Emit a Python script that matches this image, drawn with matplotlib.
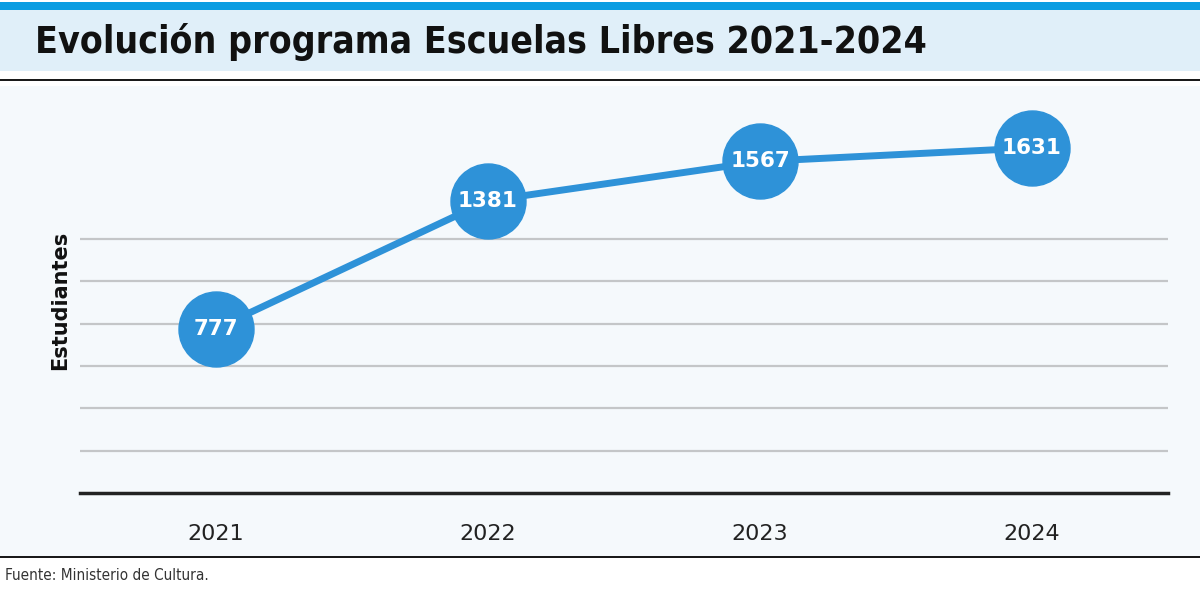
import matplotlib
matplotlib.use("Agg")
import matplotlib.pyplot as plt
from matplotlib.patches import Rectangle

years = ["2021", "2022", "2023", "2024"]
students = [777, 1381, 1567, 1631]
grid_values = [200, 400, 600, 800, 1000, 1200]

title = "Evolución programa Escuelas Libres 2021-2024"
ylabel = "Estudiantes"
source = "Fuente: Ministerio de Cultura."

W, H = 1200, 596
fig = plt.figure(figsize=(W / 100, H / 100), dpi=100)
fig.patch.set_facecolor("white")

def fy(py):
    return 1 - py / H

def band(y_top, height, color):
    fig.patches.append(Rectangle((0, fy(y_top + height)), 1, height / H,
                                 transform=fig.transFigure, facecolor=color,
                                 edgecolor="none", zorder=0))

band(2, 8, "#0a9de2")        # top blue bar
band(10, 61, "#e0eff9")      # title banner
band(79, 2, "#1a1a1a")       # line under banner
band(86, 470, "#f5f9fc")     # chart background
band(556, 2, "#1a1a1a")      # bottom line

fig.text(35 / W, fy(42), title, fontsize=26.8, fontweight="bold",
         fontstretch="condensed", family=["DejaVu Sans"], color="#111111",
         va="center", ha="left", zorder=10)
fig.text(5 / W, fy(575), source, fontsize=11, color="#333333",
         fontstretch="condensed", family=["DejaVu Sans"],
         va="center", ha="left", zorder=10)

ax = fig.add_axes([80 / W, fy(493), 1088 / W, fy(91) - fy(493)])
ax.set_zorder(5)
ax.set_facecolor("none")
x = list(range(len(years)))
ax.set_xlim(-0.5, 3.5)
ax.set_ylim(0, 1900)

for g in grid_values:
    ax.axhline(g, color="#c4c6c8", linewidth=1.6, zorder=1)

ax.plot(x, students, color="#2e92d8", linewidth=5, zorder=3,
        marker="o", markersize=54, markerfacecolor="#2e92d8",
        markeredgecolor="#2e92d8")
for xi, v in zip(x, students):
    ax.text(xi, v, str(v), color="white", fontsize=15.5, fontweight="bold",
            ha="center", va="center", zorder=4)

for s in ["top", "left", "right"]:
    ax.spines[s].set_visible(False)
ax.spines["bottom"].set_color("#222222")
ax.spines["bottom"].set_linewidth(2.5)
ax.set_yticks([])
ax.set_xticks(x)
ax.set_xticklabels(years, fontsize=16, color="#222222")
ax.tick_params(axis="x", length=0, pad=22)

fig.text(60 / W, fy(300), ylabel, rotation=90, fontsize=15, fontweight="bold",
         color="#111111", va="center", ha="center", zorder=10)

fig.savefig("out.png", dpi=100, facecolor=fig.get_facecolor())
